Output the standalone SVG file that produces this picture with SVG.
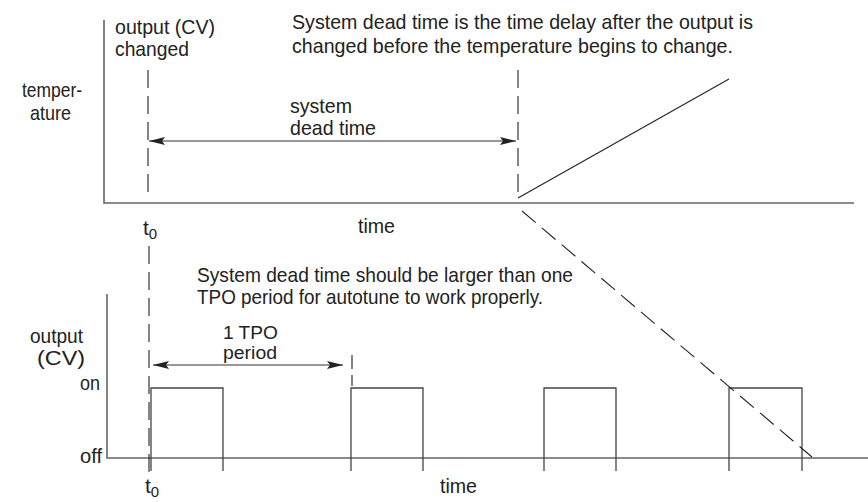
<svg xmlns="http://www.w3.org/2000/svg" width="868" height="502" viewBox="0 0 868 502">
<style>
text{font-family:"Liberation Sans",Arial,sans-serif;font-size:21px;fill:#222}
.sub{font-size:15px}
.sm{font-size:18px}
.axis{stroke:#666;stroke-width:1.6;fill:none}
.ln{stroke:#222;stroke-width:1.1;fill:none}
.pl{stroke:#444;stroke-width:1.3;fill:none}
.dash{stroke:#222;stroke-width:1.1;fill:none;stroke-dasharray:18 8}
.arr{stroke:#333;stroke-width:1.2;fill:none;marker-start:url(#ah);marker-end:url(#ah)}
</style>
<defs>
<marker id="ah" viewBox="0 0 16 8" refX="16" refY="4" markerWidth="16" markerHeight="8" markerUnits="userSpaceOnUse" orient="auto-start-reverse">
<path d="M0,0 L16,4 L0,8 L3,4 Z" fill="#222"/>
</marker>
</defs>
<g id="top-axes">
<path class="axis" d="M104,20 V203 H854"/>
</g>
<g id="bottom-axes">
<path class="axis" d="M107,294 V458 H868"/>
</g>
<g id="temperature-curve">
<path class="ln" d="M518,198 L729,79"/>
</g>
<g id="pulses">
<path class="pl" d="M151,471 V388 H223 V471"/>
<path class="pl" d="M351,471 V388 H423 V471"/>
<path class="pl" d="M544,471 V388 H616 V471"/>
<path class="pl" d="M729,471 V388 H802 V471"/>
</g>
<g id="connectors">
<path class="dash" d="M148,70 V200"/>
<path class="dash" d="M149,246 V472"/>
<path class="dash" d="M518,70 V200"/>
<path class="dash" d="M522,211 L812,457"/>
<path class="dash" d="M352,355 V386" style="stroke-dasharray:14 6"/>
<path class="arr" d="M149,141 H516"/>
<path class="arr" d="M153,365 H343"/>
</g>
<g id="labels">
<text x="115" y="34" textLength="100" lengthAdjust="spacingAndGlyphs">output (CV)</text>
<text x="115" y="56" textLength="74" lengthAdjust="spacingAndGlyphs">changed</text>
<text x="292" y="29" textLength="461" lengthAdjust="spacingAndGlyphs">System dead time is the time delay after the output is</text>
<text x="292" y="53" textLength="441" lengthAdjust="spacingAndGlyphs">changed before the temperature begins to change.</text>
<text x="22" y="97" textLength="60" lengthAdjust="spacingAndGlyphs">temper-</text>
<text x="30" y="120" textLength="41" lengthAdjust="spacingAndGlyphs">ature</text>
<text x="290" y="113" textLength="62" lengthAdjust="spacingAndGlyphs">system</text>
<text x="290" y="135" textLength="86" lengthAdjust="spacingAndGlyphs">dead time</text>
<text x="143" y="235">t<tspan class="sub" dy="4">0</tspan></text>
<text x="358" y="233" textLength="37" lengthAdjust="spacingAndGlyphs">time</text>
<text x="197" y="282" textLength="376" lengthAdjust="spacingAndGlyphs">System dead time should be larger than one</text>
<text x="197" y="304" textLength="346" lengthAdjust="spacingAndGlyphs">TPO period for autotune to work properly.</text>
<text x="30" y="343" textLength="53" lengthAdjust="spacingAndGlyphs">output</text>
<text x="37" y="365" textLength="48" lengthAdjust="spacingAndGlyphs">(CV)</text>
<text x="80" y="390" textLength="20" lengthAdjust="spacingAndGlyphs">on</text>
<text x="80" y="463" textLength="22" lengthAdjust="spacingAndGlyphs">off</text>
<text class="sm" x="223" y="339" textLength="55" lengthAdjust="spacingAndGlyphs">1 TPO</text>
<text class="sm" x="223" y="359" textLength="54" lengthAdjust="spacingAndGlyphs">period</text>
<text x="145" y="493">t<tspan class="sub" dy="4">0</tspan></text>
<text x="440" y="493" textLength="37" lengthAdjust="spacingAndGlyphs">time</text>
</g>
</svg>
